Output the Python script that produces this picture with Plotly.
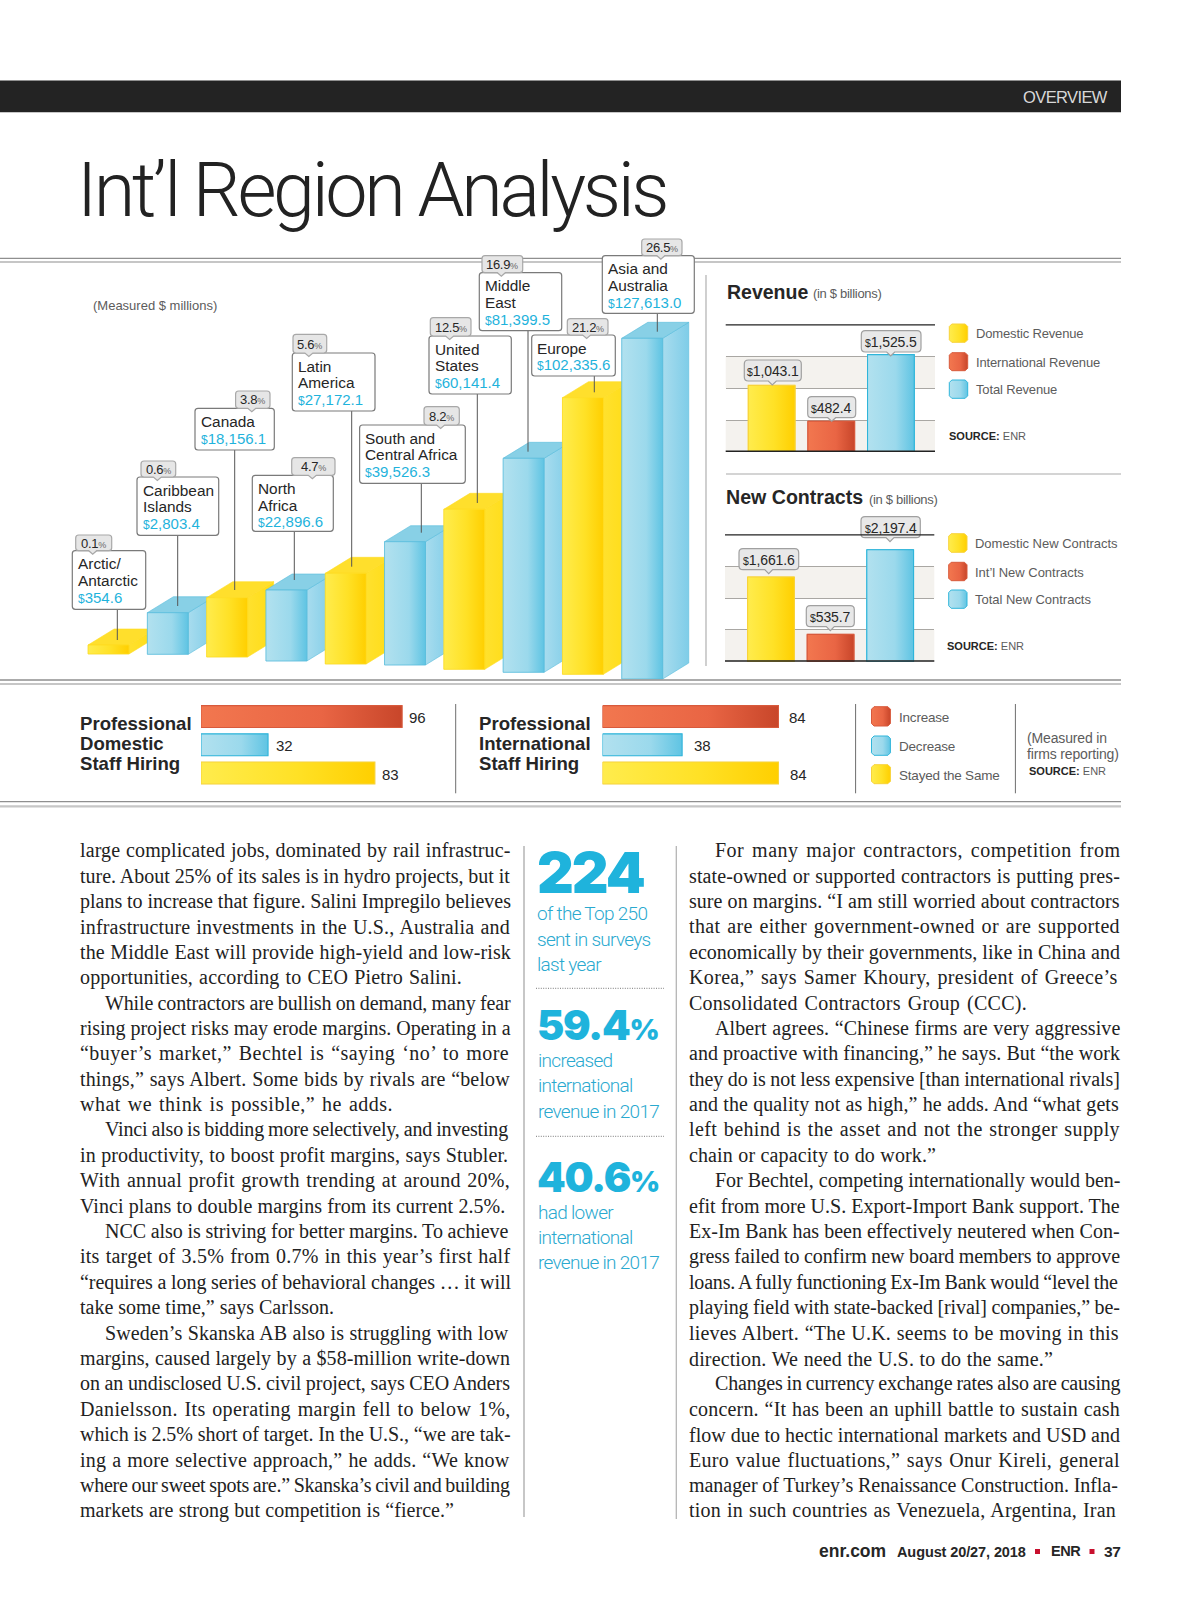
import plotly.graph_objects as go

# ---------- DATA ----------
REGION_LINES = [["Arctic/", "Antarctic"], ["Caribbean", "Islands"], ["Canada"], ["North", "Africa"],
                ["Latin", "America"], ["South and", "Central Africa"], ["United", "States"],
                ["Middle", "East"], ["Europe"], ["Asia and", "Australia"]]
REGION_VALUES = ["354.6", "2,803.4", "18,156.1", "22,896.6", "27,172.1", "39,526.3", "60,141.4",
                 "81,399.5", "102,335.6", "127,613.0"]
REGION_SHARES = ["0.1", "0.6", "3.8", "4.7", "5.6", "8.2", "12.5", "16.9", "21.2", "26.5"]
REGION_BAR_HEIGHT = [9, 41.6, 59.3, 71, 90.7, 123.3, 160, 214, 276.6, 340.7]
REGION_BAR_BASE = [36, 35.7, 33, 29, 26, 25, 20.7, 17.7, 15.7, 11]
REGION_TONE = ["y", "b", "y", "b", "y", "b", "y", "b", "y", "b"]

REVENUE_CATS = ["Domestic Revenue", "International Revenue", "Total Revenue"]
REVENUE_VALS = [1043.1, 482.4, 1525.5]
CONTRACT_CATS = ["Domestic New Contracts", "Int\u2019l New Contracts", "Total New Contracts"]
CONTRACT_VALS = [1661.6, 535.7, 2197.4]
HIRING_CATS = ["Increase", "Decrease", "Stayed the Same"]
HIRING_DOMESTIC = [96, 32, 83]
HIRING_INTL = [84, 38, 84]

COL1 = [
 ("large complicated jobs, dominated by rail infrastruc-", 0, None),
 ("ture. About 25% of its sales is in hydro projects, but it", 0, None),
 ("plans to increase that figure. Salini Impregilo believes", 0, None),
 ("infrastructure investments in the U.S., Australia and", 0, None),
 ("the Middle East will provide high-yield and low-risk", 0, None),
 ("opportunities, according to CEO Pietro Salini.", 0, 382),
 ("While contractors are bullish on demand, many fear", 1, None),
 ("rising project risks may erode margins. Operating in a", 0, None),
 ("\u201cbuyer\u2019s market,\u201d Bechtel is \u201csaying \u2018no\u2019 to more", 0, None),
 ("things,\u201d says Albert. Some bids by rivals are \u201cbelow", 0, None),
 ("what we think is possible,\u201d he adds.", 0, 313),
 ("Vinci also is bidding more selectively, and investing", 1, None),
 ("in productivity, to boost profit margins, says Stubler.", 0, None),
 ("With annual profit growth trending at around 20%,", 0, None),
 ("Vinci plans to double margins from its current 2.5%.", 0, 427),
 ("NCC also is striving for better margins. To achieve", 1, None),
 ("its target of 3.5% from 0.7% in this year\u2019s first half", 0, None),
 ("\u201crequires a long series of behavioral changes \u2026 it will", 0, None),
 ("take some time,\u201d says Carlsson.", 0, 254),
 ("Sweden\u2019s Skanska AB also is struggling with low", 1, None),
 ("margins, caused largely by a $58-million write-down", 0, None),
 ("on an undisclosed U.S. civil project, says CEO Anders", 0, None),
 ("Danielsson. Its operating margin fell to below 1%,", 0, None),
 ("which is 2.5% short of target. In the U.S., \u201cwe are tak-", 0, None),
 ("ing a more selective approach,\u201d he adds. \u201cWe know", 0, None),
 ("where our sweet spots are.\u201d Skanska\u2019s civil and building", 0, None),
 ("markets are strong but competition is \u201cfierce.\u201d", 0, 374),
]
COL3 = [
 ("For many major contractors, competition from", 1, None),
 ("state-owned or supported contractors is putting pres-", 0, None),
 ("sure on margins. \u201cI am still worried about contractors", 0, None),
 ("that are either government-owned or are supported", 0, None),
 ("economically by their governments, like in China and", 0, None),
 ("Korea,\u201d says Samer Khoury, president of Greece\u2019s", 0, None),
 ("Consolidated Contractors Group (CCC).", 0, 338),
 ("Albert agrees. \u201cChinese firms are very aggressive", 1, None),
 ("and proactive with financing,\u201d he says. But \u201cthe work", 0, None),
 ("they do is not less expensive [than international rivals]", 0, None),
 ("and the quality not as high,\u201d he adds. And \u201cwhat gets", 0, None),
 ("left behind is the asset and not the stronger supply", 0, None),
 ("chain or capacity to do work.\u201d", 0, 247),
 ("For Bechtel, competing internationally would ben-", 1, None),
 ("efit from more U.S. Export-Import Bank support. The", 0, None),
 ("Ex-Im Bank has been effectively neutered when Con-", 0, None),
 ("gress failed to confirm new board members to approve", 0, None),
 ("loans. A fully functioning Ex-Im Bank would \u201clevel the", 0, None),
 ("playing field with state-backed [rival] companies,\u201d be-", 0, None),
 ("lieves Albert. \u201cThe U.K. seems to be moving in this", 0, None),
 ("direction. We need the U.S. to do the same.\u201d", 0, 366),
 ("Changes in currency exchange rates also are causing", 1, None),
 ("concern. \u201cIt has been an uphill battle to sustain cash", 0, None),
 ("flow due to hectic international markets and USD and", 0, None),
 ("Euro value fluctuations,\u201d says Onur Kireli, general", 0, None),
 ("manager of Turkey\u2019s Renaissance Construction. Infla-", 0, None),
 ("tion in such countries as Venezuela, Argentina, Iran", 0, None),
]

# ---------- STYLE ----------
W, H = 1200, 1600
SANS = "Liberation Sans"
SERIF = "Liberation Serif"
CYAN = "#1fb3dc"
INK = "#262626"
GREY = "#5c5c5c"
GRAD = {
    "y": [[0, "#ffec4d"], [0.55, "#ffe126"], [1, "#ffcf00"]],
    "r": [[0, "#f2774f"], [0.6, "#e96544"], [1, "#c8462a"]],
    "b": [[0, "#b2e1ef"], [0.6, "#9bd9ec"], [1, "#5fc4e3"]],
}
SOLID = {"y": "#ffe020", "r": "#e8623f", "b": "#9ad8ec"}
EDGE = {"y": "#f8d33a", "r": "#d85a3c", "b": "#2fb5da"}
TOPC = {"y": "#ffdf2c", "b": "#88d0e6"}
SIDE = {"y": [[0, "#ffe12e"], [1, "#ffdc16"]], "b": [[0, "#a8dcee"], [1, "#7fcde8"]]}
SIDE_LINE = {"y": "#ffdc20", "b": "#58bcdc"}

fig = go.Figure()
shapes, notes = [], []


def px_dom_x(a, b):
    return [a / W, b / W]


def px_dom_y(top, bottom):
    return [1 - bottom / H, 1 - top / H]


TIMES = {" ": 250, "!": 333, "$": 500, "%": 833, "(": 333, ")": 333, ",": 250, "-": 333, ".": 250, "/": 278,
         ":": 278, ";": 278, "A": 722, "B": 667, "C": 667, "D": 722, "E": 611, "F": 556, "G": 722, "H": 722,
         "I": 333, "J": 389, "K": 722, "L": 611, "M": 889, "N": 722, "O": 722, "P": 556, "Q": 722, "R": 667,
         "S": 556, "T": 611, "U": 722, "V": 722, "W": 944, "X": 722, "Y": 722, "Z": 611, "[": 333, "]": 333,
         "a": 444, "b": 500, "c": 444, "d": 500, "e": 444, "f": 333, "g": 500, "h": 500, "i": 278, "j": 278,
         "k": 500, "l": 278, "m": 778, "n": 500, "o": 500, "p": 500, "q": 500, "r": 333, "s": 389, "t": 278,
         "u": 500, "v": 500, "w": 722, "x": 500, "y": 500, "z": 444, "\u2018": 333, "\u2019": 333,
         "\u201c": 444, "\u201d": 444, "\u2026": 1000}


def note(x, y, s, size=14, color=INK, family=SANS, anchor="left", weight=None, ls=None, ws=None):
    style = []
    if ls is not None:
        style.append(f"letter-spacing:{ls:.3f}px")
    if ws is not None:
        style.append(f"word-spacing:{ws:.2f}px")
    if style:
        s = f'<span style="{";".join(style)}">{s}</span>'
    font = dict(size=size, color=color, family=family)
    if weight:
        font["weight"] = weight
    notes.append(dict(x=x, y=y, xref="x6", yref="y6", text=s, showarrow=False, xanchor=anchor, yanchor="middle",
                      align=anchor, font=font, borderpad=0, borderwidth=0))


def line(x0, y0, x1, y1, color, width=1, dash=None):
    ln = dict(color=color, width=width)
    if dash:
        ln["dash"] = dash
    shapes.append(dict(type="line", xref="x6", yref="y6", x0=x0, y0=y0, x1=x1, y1=y1, line=ln, layer="above"))


def box(x0, y0, x1, y1, fill, edge, r=3, tip=None, width=1.2):
    p = f"M{x0+r} {y0} L{x1-r} {y0} Q{x1} {y0} {x1} {y0+r} L{x1} {y1-r} Q{x1} {y1} {x1-r} {y1} "
    if tip:
        p += f"L{tip[0]+4} {y1} L{tip[0]} {tip[1]} L{tip[0]-4} {y1} "
    p += f"L{x0+r} {y1} Q{x0} {y1} {x0} {y1-r} L{x0} {y0+r} Q{x0} {y0} {x0+r} {y0} Z"
    shapes.append(dict(type="path", xref="x6", yref="y6", path=p, fillcolor=fill,
                       line=dict(color=edge, width=width), layer="above"))


def poly(xs, ys, scale, edge, xa, ya, lw=1):
    fig.add_trace(go.Scatter(x=xs + xs[:1], y=ys + ys[:1], mode="lines", fill="toself",
                             fillgradient=dict(type="horizontal", colorscale=scale),
                             line=dict(color=edge, width=lw), xaxis=xa, yaxis=ya,
                             hoverinfo="skip", showlegend=False))


# ---------- 3-D REGION CHART ----------
FW, DX, DY = 0.69, 0.44, 16
idx = list(range(len(REGION_VALUES)))
fig.add_trace(go.Bar(x=idx, y=REGION_BAR_HEIGHT, base=REGION_BAR_BASE, width=FW,
                     marker=dict(color=[SOLID[t] for t in REGION_TONE]),
                     hovertext=[" ".join(n) for n in REGION_LINES], xaxis="x", yaxis="y", showlegend=False))
for i, t in zip(idx, REGION_TONE):
    b, top = REGION_BAR_BASE[i], REGION_BAR_BASE[i] + REGION_BAR_HEIGHT[i]
    x0, x1 = i - FW / 2, i + FW / 2
    poly([x1, x1, x1 + DX, x1 + DX], [b, top, top + DY, b + DY], SIDE[t], SIDE_LINE[t], "x", "y", 0.6)
    poly([x0, x1, x1 + DX, x0 + DX], [top, top, top + DY, top + DY], [[0, TOPC[t]], [1, TOPC[t]]], SIDE_LINE[t], "x", "y", 0.6)
    poly([x0, x1, x1, x0], [b, b, top, top], GRAD[t], SIDE_LINE[t], "x", "y", 0.8)

# ---------- REVENUE / CONTRACT COLUMNS ----------
for xa, ya, vals, cats in (("x2", "y2", REVENUE_VALS, REVENUE_CATS), ("x3", "y3", CONTRACT_VALS, CONTRACT_CATS)):
    tones = ["y", "r", "b"]
    fig.add_trace(go.Bar(x=[0, 1, 2], y=vals, width=0.784, hovertext=cats, xaxis=xa, yaxis=ya, showlegend=False,
                         marker=dict(color=[SOLID[t] for t in tones], line=dict(color=[EDGE[t] for t in tones], width=1))))
    for i, (v, t) in enumerate(zip(vals, tones)):
        poly([i - .392, i + .392, i + .392, i - .392], [0, 0, v, v], GRAD[t], EDGE[t], xa, ya, 1.1)

# ---------- STAFF HIRING BARS ----------
for xa, ya, vals in (("x4", "y4", HIRING_DOMESTIC), ("x5", "y5", HIRING_INTL)):
    tones = ["r", "b", "y"]
    fig.add_trace(go.Bar(x=vals, y=[0, 1, 2], width=0.777, orientation="h", hovertext=HIRING_CATS, xaxis=xa, yaxis=ya,
                         showlegend=False, marker=dict(color=[SOLID[t] for t in tones])))
    for i, (v, t) in enumerate(zip(vals, tones)):
        poly([0, v, v, 0], [i - .388, i - .388, i + .388, i + .388], GRAD[t], EDGE[t], xa, ya, 1.1)


# ---------- LEGEND SWATCHES ----------
def swatch(x0, y0, x1, y1, t):
    r = 2.5
    xs = [x0 + r, x1 - r, x1, x1, x1 - r, x0 + r, x0, x0]
    ys = [y0, y0, y0 + r, y1 - r, y1, y1, y1 - r, y0 + r]
    poly(xs, ys, GRAD[t], EDGE[t], "x6", "y6", 1)


LEG1_Y = [(324, 342.3), (352.7, 370.7), (380, 398.3)]
LEG2_Y = [(533.7, 552.3), (562.3, 580.7), (590, 608.3)]
LEG3_Y = [(706.7, 726), (736, 755.3), (764.7, 783.7)]
for (a, b), t, lab in zip(LEG1_Y, "yrb", REVENUE_CATS):
    swatch(949.3, a, 967.7, b, t)
    note(976, (a + b) / 2 + 0.5, lab, 13, GREY, ls=-0.15)
for (a, b), t, lab in zip(LEG2_Y, "yrb", CONTRACT_CATS):
    swatch(948.7, a, 967, b, t)
    note(975.3, (a + b) / 2 + 0.5, lab, 13, GREY, ls=-0.02)
for (a, b), t, lab in zip(LEG3_Y, "rby", HIRING_CATS):
    swatch(871.5, a, 890.4, b, t)
    note(899.3, (a + b) / 2 + 1, lab, 13.5, GREY, ls=-0.2)

# ---------- PAGE FURNITURE ----------
shapes.append(dict(type="rect", xref="x6", yref="y6", x0=0, y0=80.6, x1=1121, y1=112.2, fillcolor="#232323",
                   line=dict(width=0), layer="above"))
note(1108, 96.6, "OVERVIEW", 16.5, "#d8d8d8", anchor="right", ls=-0.6)
note(77, 190, "Int\u2019l Region Analysis", 75.5, "#222222", family="Roboto", weight=300, ls=-3.35)
for a, b in ((258.3, 262), (680, 684), (801.7, 806.3)):
    line(0, a, 1121, a, "#8f8f8f", 1.3)
    line(0, b, 1121, b, "#c6c6c6", 2.2)
line(706, 275, 706, 666, "#c4c4c4", 1.6)
line(726, 474, 1121, 474, "#c6c6c6", 1.5)
for x in (455.7, 855.6, 1015.4):
    line(x, 704, x, 793.3, "#6e6e6e", 1)
line(524, 846, 524, 1517, "#b5b5b5", 1.5)
line(676.3, 846, 676.3, 1519, "#b5b5b5", 1.3)
line(536, 988.3, 664, 988.3, "#777777", 1, "1px,1.4px")
line(536, 1136.3, 664, 1136.3, "#777777", 1, "1px,1.4px")

note(92.6, 305, "(Measured $ millions)", 13, GREY)
note(726.7, 292, "<b>Revenue</b>", 19.5, INK)
note(813.3, 293.5, "(in $ billions)", 13, GREY, ls=-0.3)
note(726, 497, "<b>New Contracts</b>", 19.6, INK)
note(868.5, 499.5, "(in $ billions)", 13, GREY, ls=-0.3)
for x, y in ((949.3, 436.3), (947.3, 646.3)):
    note(x, y, f'<b>SOURCE:</b> <span style="fill:{GREY}">ENR</span>', 11, INK)
note(1028.7, 771, f'<b>SOURCE:</b> <span style="fill:{GREY}">ENR</span>', 11, INK)
note(1027.3, 737.7, "(Measured in", 14, GREY, ls=-0.15)
note(1027.3, 753.8, "firms reporting)", 14, GREY, ls=-0.15)

# region callouts: frame, label frame, stem and text
REGION_BOX = [(72.3, 550.7, 145.7, 609.3), (137, 477, 218.7, 535.3), (195, 408.3, 274.3, 450), (252.3, 475.3, 333.3, 531.3),
              (292.3, 353, 375, 411), (359.6, 425, 465.3, 483.3), (429, 336, 511.3, 394), (479.3, 272.7, 561.7, 330.7),
              (531.7, 335, 615.3, 376), (602.3, 255.7, 694.3, 313.3)]
SHARE_BOX = [(75.7, 535, 111.7, 550.7), (141, 461, 175.7, 477), (235.6, 391, 270, 408.3), (291.7, 457.7, 335, 475.3),
             (293, 334.4, 326.7, 353), (424, 406.7, 459.3, 425), (430.3, 317.7, 471, 336), (482, 255.7, 522.7, 272.7),
             (567.3, 318.7, 608, 335), (641.7, 239, 682, 255.7)]
STEMS = [(117.3, 640), (177.7, 606), (234.7, 590), (294.3, 580), (351.7, 566.7), (421.3, 532.7), (477.3, 503), (528, 451.7),
         (594.3, 392.3), (657.3, 331.7)]
for i in idx:
    x0, y0, x1, y1 = REGION_BOX[i]
    sx, sy = STEMS[i]
    line(sx, y1, sx, sy, "#555555", 1)
    box(x0, y0, x1, y1, "#ffffff", "#7a7a7a")
    a, b, c, d = SHARE_BOX[i]
    box(a, b, c, d, "#e6e6e6", "#a8a8a8", tip=((a + c) / 2 - 1, d + 3.5))
    note((a + c) / 2, (b + d) / 2 + 0.3,
         f'{REGION_SHARES[i]}<span style="font-size:9px;fill:#666666">%</span>', 13, INK, anchor="center", ls=-0.3)
    tx = x0 + 5.5
    yy = y0 + 13
    for ln in REGION_LINES[i]:
        note(tx, yy, ln, 15.4, INK)
        yy += 16.7
    note(tx, yy, f'<span style="font-size:12px">$</span>{REGION_VALUES[i]}', 15, CYAN)

# small column callouts
REV_BOX = [(744.3, 360, 801.3, 381, 772.3, 385), (807.7, 396.7, 855.7, 417.7, 831.7, 421.3), (861.3, 330.7, 921, 352, 890.7, 356)]
CON_BOX = [(739, 548.7, 798.7, 569.7, 768.7, 573.7), (806.3, 605.7, 854.3, 626.7, 830.3, 630.7), (861, 516.7, 920.3, 537.7, 890, 541.7)]
for boxes, vals in ((REV_BOX, REVENUE_VALS), (CON_BOX, CONTRACT_VALS)):
    for (a, b, c, d, tx, ty), v in zip(boxes, vals):
        box(a, b, c, d, "#e8e8e8", "#a0a0a0", r=4, tip=(tx, ty))
        note((a + c) / 2, (b + d) / 2 + 0.3, f'<span style="font-size:10.5px">$</span>{v:,.1f}', 14, INK, anchor="center", ls=-0.1)

# staff hiring labels
for lines_, x in ((["Professional", "Domestic", "Staff Hiring"], 80), (["Professional", "International", "Staff Hiring"], 479)):
    for j, s in enumerate(lines_):
        note(x, 723.8 + 20 * j, f"<b>{s}</b>", 18.6, INK)
for x, y, v in ((408.7, 717.3, HIRING_DOMESTIC[0]), (276, 745, HIRING_DOMESTIC[1]), (382.3, 774, HIRING_DOMESTIC[2]),
                (788.6, 717.3, HIRING_INTL[0]), (694, 745.5, HIRING_INTL[1]), (789.7, 774, HIRING_INTL[2])):
    note(x, y, str(v), 15, INK)

# sidebar
note(536.5, 872, "224", 57, CYAN, family="Inter", weight=900, ls=-2)
for y, s in ((913.3, "of the Top 250"), (939, "sent in surveys"), (964, "last year")):
    note(536.7, y, s, 19, "#2aa9cf", family="Roboto", weight=300, ls=-0.7)
STAT_TEXT = [("59.4", 1024.5, [(1060, "increased"), (1085.7, "international"), (1111, "revenue in 2017")]),
             ("40.6", 1176.5, [(1212.3, "had lower"), (1237.3, "international"), (1262.7, "revenue in 2017")])]
for v, y, rows in STAT_TEXT:
    note(536.5, y, f'{v}<span style="font-size:29px">%</span>', 41, CYAN, family="Inter", weight=900, ls=-1.3)
    for yy, s in rows:
        note(538.3, yy, s, 19, "#2aa9cf", family="Roboto", weight=300, ls=-0.7)


# body copy: each line is fitted to its measure through letter and word spacing
def measure(s, size):
    return sum(TIMES.get(c, 500) for c in s) * size / 1000


BODY_SIZE = 20
for left, col in ((79.6, COL1), (689.4, COL3)):
    right = left + 431
    for j, (s, indent, target) in enumerate(col):
        x = left + 25.5 * indent
        goal = target if target else right - x
        gaps = max(s.count(" "), 1)
        delta = goal - measure(s, BODY_SIZE)
        ls = 0.65 * delta / len(s)
        ws = 0.35 * delta / gaps
        note(x, 850.7 + 25.39 * j, s, BODY_SIZE, "#222222", family=SERIF, ls=ls, ws=ws)

# footer
note(818.7, 1551, "<b>enr.com</b>", 17.5, INK)
note(896.7, 1551.5, "<b>August 20/27, 2018</b>", 14.5, INK, ls=-0.1)
note(1051, 1551, "<b>ENR</b>", 14.5, INK, ls=-0.4)
note(1104, 1551, "<b>37</b>", 15.5, INK, ls=-0.4)
for x in (1037.5, 1092):
    shapes.append(dict(type="rect", xref="x6", yref="y6", x0=x - 2.5, x1=x + 2.5, y0=1549, y1=1554,
                       fillcolor="#c8102e", line=dict(width=0), layer="above"))

# ---------- COLUMN CHART BACKGROUND BANDS ----------
for xa, ya, top in (("x2", "y2", 2000), ("x3", "y3", 2500)):
    step = top / 4
    for lo in (0, 2 * step):
        shapes.append(dict(type="rect", xref=f"{xa} domain", yref=ya, x0=0, x1=1, y0=lo, y1=lo + step,
                           fillcolor="#f4f2ee", line=dict(width=0), layer="below"))
    for val, w in ((top, 2.2), (0, 2.8)):
        shapes.append(dict(type="line", xref=f"{xa} domain", yref=ya, x0=0, x1=1, y0=val, y1=val,
                           line=dict(color="#222222", width=w), layer="above"))

hidden = dict(visible=False, showgrid=False, zeroline=False, fixedrange=True)
grid_y = dict(visible=True, showgrid=True, gridcolor="#a9a7a3", gridwidth=1, showticklabels=False, ticks="", showline=False,
              zeroline=False, fixedrange=True)
fig.update_layout(
    width=W, height=H, margin=dict(l=0, r=0, t=0, b=0), paper_bgcolor="#ffffff", plot_bgcolor="rgba(0,0,0,0)",
    showlegend=False, barmode="overlay", hovermode="closest",
    xaxis=dict(hidden, domain=px_dom_x(60, 720), range=[-0.818, 10.312], anchor="y"),
    yaxis=dict(hidden, domain=px_dom_y(300, 690), range=[0, 390], anchor="x"),
    xaxis2=dict(hidden, domain=px_dom_x(725.7, 935), range=[-0.771, 2.74], anchor="y2"),
    yaxis2=dict(grid_y, domain=px_dom_y(324.3, 452), range=[0, 2000], dtick=500, anchor="x2"),
    xaxis3=dict(hidden, domain=px_dom_x(725, 934.3), range=[-0.771, 2.74], anchor="y3"),
    yaxis3=dict(grid_y, domain=px_dom_y(534.3, 661.7), range=[0, 2500], dtick=625, anchor="x3"),
    xaxis4=dict(hidden, domain=px_dom_x(201, 410.5), range=[0, 100], anchor="y4"),
    yaxis4=dict(hidden, domain=px_dom_y(702.5, 787.1), range=[2.5, -0.5], anchor="x4"),
    xaxis5=dict(hidden, domain=px_dom_x(602.5, 812), range=[0, 100], anchor="y5"),
    yaxis5=dict(hidden, domain=px_dom_y(702.5, 787.1), range=[2.5, -0.5], anchor="x5"),
    xaxis6=dict(hidden, domain=[0, 1], range=[0, W], anchor="y6"),
    yaxis6=dict(hidden, domain=[0, 1], range=[H, 0], anchor="x6"),
    shapes=shapes, annotations=notes,
)
fig.write_html("out.html", post_script="document.body.style.margin='0';", config={"displayModeBar": False})
